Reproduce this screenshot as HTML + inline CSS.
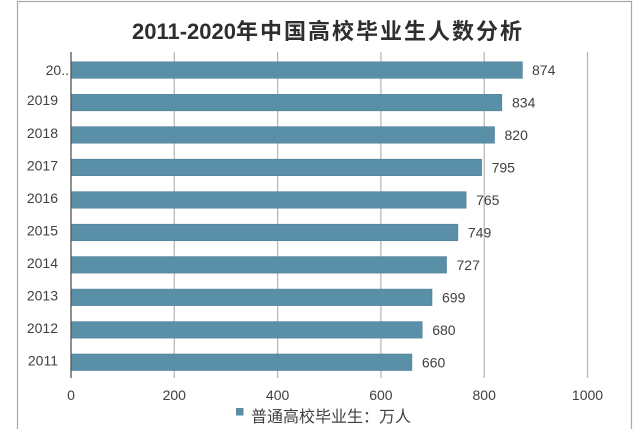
<!DOCTYPE html>
<html><head><meta charset="utf-8">
<style>
html,body{margin:0;padding:0;background:#fff;}
svg{display:block;}
text{font-family:"Liberation Sans","Noto Sans CJK SC",sans-serif;}
</style></head>
<body>
<svg width="640" height="429" viewBox="0 0 640 429" xmlns="http://www.w3.org/2000/svg">
<rect x="0" y="0" width="640" height="429" fill="#fff"/>
<rect x="17.5" y="1.5" width="614" height="440" fill="none" stroke="#a8a8a8" stroke-width="1.2"/>
<text x="328" y="39" text-anchor="middle" font-size="22" font-weight="bold" fill="#2e2e2e">2011-2020<tspan letter-spacing="2">年中国高校毕业生人数分析</tspan></text>
<g stroke="#b8b8b8" stroke-width="1.3">
<line x1="174.3" y1="52" x2="174.3" y2="378"/>
<line x1="277.6" y1="52" x2="277.6" y2="378"/>
<line x1="380.9" y1="52" x2="380.9" y2="378"/>
<line x1="484.2" y1="52" x2="484.2" y2="378"/>
<line x1="587.5" y1="52" x2="587.5" y2="378"/>
</g>
<g fill="#5a8fa8" stroke="#4f8199" stroke-width="0.6">
<rect x="71" y="61.8" width="451.4" height="16.5"/>
<rect x="71" y="94.3" width="430.8" height="16.5"/>
<rect x="71" y="126.7" width="423.5" height="16.5"/>
<rect x="71" y="159.2" width="410.6" height="16.5"/>
<rect x="71" y="191.7" width="395.1" height="16.5"/>
<rect x="71" y="224.2" width="386.9" height="16.5"/>
<rect x="71" y="256.6" width="375.5" height="16.5"/>
<rect x="71" y="289.1" width="361.0" height="16.5"/>
<rect x="71" y="321.6" width="351.2" height="16.5"/>
<rect x="71" y="354.0" width="340.9" height="16.5"/>
</g>
<line x1="71" y1="52" x2="71" y2="378" stroke="#555" stroke-width="1.3"/>
<g font-size="14" fill="#404040">
<text x="532" y="75">874</text>
<text x="512" y="107.5">834</text>
<text x="504.5" y="140">820</text>
<text x="491.6" y="172.5">795</text>
<text x="476.1" y="205">765</text>
<text x="467.9" y="237.5">749</text>
<text x="456.5" y="270">727</text>
<text x="442" y="302.5">699</text>
<text x="432.2" y="335">680</text>
<text x="421.9" y="367.5">660</text>
</g>
<g font-size="14" fill="#404040" text-anchor="end">
<text x="69" y="75">20..</text>
<text x="58" y="105">2019</text>
<text x="58" y="138">2018</text>
<text x="58" y="170.5">2017</text>
<text x="58" y="203">2016</text>
<text x="58" y="235.5">2015</text>
<text x="58" y="268">2014</text>
<text x="58" y="300.5">2013</text>
<text x="58" y="333">2012</text>
<text x="58" y="365.5">2011</text>
</g>
<g font-size="14" fill="#404040" text-anchor="middle">
<text x="71" y="400">0</text>
<text x="174.3" y="400">200</text>
<text x="277.6" y="400">400</text>
<text x="380.9" y="400">600</text>
<text x="484.2" y="400">800</text>
<text x="587.5" y="400">1000</text>
</g>
<rect x="236" y="408" width="7.5" height="7.5" fill="#5a8fa8"/>
<text x="251" y="422" font-size="16" fill="#404040">普通高校毕业生：万人</text>
</svg>
</body></html>
